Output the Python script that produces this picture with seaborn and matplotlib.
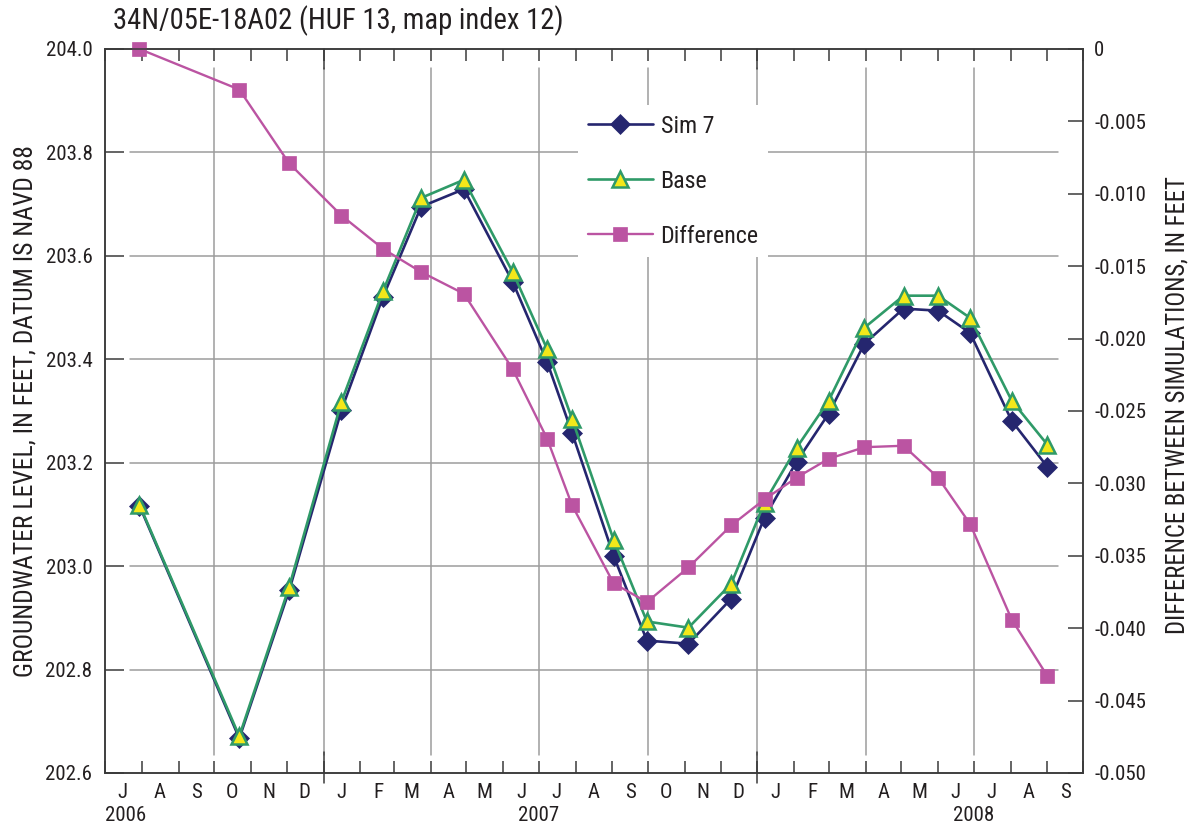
import pandas as pd
import matplotlib
matplotlib.use("Agg")
import matplotlib.pyplot as plt
import matplotlib.dates as mdates
import matplotlib.ticker as mticker
from matplotlib import font_manager
import seaborn as sns

TITLE = "34N/05E-18A02 (HUF 13, map index 12)"
YLABEL_LEFT = "GROUNDWATER LEVEL, IN FEET, DATUM IS NAVD 88"
YLABEL_RIGHT = "DIFFERENCE BETWEEN SIMULATIONS, IN FEET"

dates = ["2006-07-30", "2006-10-22", "2006-12-03", "2007-01-16", "2007-02-20",
         "2007-03-24", "2007-04-29", "2007-06-09", "2007-07-08", "2007-07-29",
         "2007-09-02", "2007-09-30", "2007-11-04", "2007-12-10", "2008-01-07",
         "2008-02-03", "2008-03-01", "2008-03-31", "2008-05-03", "2008-06-01",
         "2008-06-28", "2008-08-02", "2008-09-01"]

sim7 = [203.117, 202.667, 202.953, 203.302, 203.521, 203.695, 203.729, 203.550,
        203.395, 203.258, 203.020, 202.856, 202.850, 202.937, 203.094, 203.202,
        203.295, 203.430, 203.498, 203.494, 203.451, 203.281, 203.192]

base = [203.119, 202.671, 202.960, 203.318, 203.532, 203.712, 203.747, 203.569,
        203.420, 203.285, 203.051, 202.893, 202.881, 202.966, 203.123, 203.229,
        203.320, 203.461, 203.523, 203.523, 203.480, 203.320, 203.235]

difference = [0.0, -0.0028, -0.0079, -0.0115, -0.0138, -0.0154, -0.0169, -0.0221,
              -0.0269, -0.0315, -0.0369, -0.0382, -0.0358, -0.0329, -0.0311, -0.0296,
              -0.0283, -0.0275, -0.0274, -0.0296, -0.0328, -0.0394, -0.0433]

left_ticks = [202.6, 202.8, 203.0, 203.2, 203.4, 203.6, 203.8, 204.0]
month_letters = "JFMAMJJASOND"
years = ["2006", "2007", "2008"]

C_SIM = "#25266f"
C_BASE = "#2f9a68"
C_YELLOW = "#f3e81a"
C_DIFF = "#bb54a2"
C_GRID = "#9c9c9c"
C_AXIS = "#3a3a3a"
C_TEXT = "#231f20"

sns.set_theme(style="white")

# pick a narrow sans if one is installed (original uses a condensed face)
installed = {(f.name, f.stretch) for f in font_manager.fontManager.ttflist}
names = {n for n, _ in installed}
family, stretch = "DejaVu Sans", "normal"
for cand in ["Liberation Sans Narrow", "Roboto Condensed", "Noto Sans Condensed",
             "Open Sans Condensed", "Arial Narrow"]:
    if cand in names:
        family = cand
        break
else:
    for cand in ["Noto Sans", "Roboto", "Open Sans", "DejaVu Sans"]:
        if any(n == cand and s in ("condensed", "semi-condensed", 75, 87)
               for n, s in installed):
            family, stretch = cand, "condensed"
            break

plt.rcParams["font.family"] = [family, "DejaVu Sans"]
plt.rcParams["font.stretch"] = stretch
plt.rcParams["text.color"] = C_TEXT
plt.rcParams["xtick.labelcolor"] = C_TEXT
plt.rcParams["ytick.labelcolor"] = C_TEXT

df = pd.DataFrame({"date": pd.to_datetime(dates), "sim7": sim7,
                   "base": base, "diff": difference})

fig = plt.figure(figsize=(11.93, 8.26), dpi=100)
renderer = fig.canvas.get_renderer()


def fit(text, target_px, ref=20):
    """font size (pt) that gives the text the width it has in the original"""
    t = fig.text(0, 0, text, fontsize=ref)
    w = t.get_window_extent(renderer).width
    t.remove()
    return ref * target_px / w


FS_TICK = fit("204.0", 47)
FS_LEG = fit("Difference", 98)
FS_TITLE = fit(TITLE, 450)
FS_YL = fit(YLABEL_LEFT, 532)
FS_YR = fit(YLABEL_RIGHT, 458)

ax = fig.add_axes([105 / 1193, 1 - 773 / 826, 978 / 1193, 724 / 826])
ax2 = ax.twinx()

start, end = pd.Timestamp("2006-07-01"), pd.Timestamp("2008-10-01")

# gridlines, stopping short of the frame like the original
for v in left_ticks[1:-1]:
    ax.axhline(v, xmin=0.026, xmax=0.974, color=C_GRID, lw=1.1, zorder=0.5)
for d in pd.date_range(start, end, freq="QS")[1:]:
    if d < end:
        ax.axvline(d, ymin=0.025, ymax=0.974, color=C_GRID, lw=1.1, zorder=0.5)

sns.lineplot(data=df, x="date", y="sim7", ax=ax, color=C_SIM, lw=1.9,
             marker="D", markersize=10, markerfacecolor=C_SIM,
             markeredgecolor=C_SIM, markeredgewidth=0.5, label="Sim 7", legend=False)
sns.lineplot(data=df, x="date", y="base", ax=ax, color=C_BASE, lw=1.9,
             marker="^", markersize=12, markerfacecolor=C_YELLOW,
             markeredgecolor=C_BASE, markeredgewidth=1.8, label="Base", legend=False)
sns.lineplot(data=df, x="date", y="diff", ax=ax2, color=C_DIFF, lw=1.7,
             marker="s", markersize=10, markerfacecolor=C_DIFF,
             markeredgecolor=C_DIFF, markeredgewidth=0.5, label="Difference",
             legend=False, clip_on=False)

# left axis
ax.set_ylim(202.6, 204.0)
ax.set_yticks(left_ticks)
ax.yaxis.set_major_formatter(mticker.FormatStrFormatter("%.1f"))
ax.tick_params(axis="y", direction="in", length=13.5, width=1.1, pad=9,
               labelsize=FS_TICK, left=True, right=False, color=C_AXIS)
ax.set_ylabel("")

# right axis
ax2.set_ylim(-0.05, 0.0)
ax2.yaxis.set_major_locator(mticker.MultipleLocator(0.005))
ax2.yaxis.set_major_formatter(mticker.FuncFormatter(
    lambda v, p: "0" if abs(v) < 1e-9 else f"{v:.3f}"))
ax2.tick_params(axis="y", direction="in", length=11, width=1.1, pad=8,
                labelsize=FS_TICK, right=True, left=False, color=C_AXIS)
ax2.set_ylabel("")

# month axis
ax.set_xlim(start, end)
ax.xaxis.set_major_locator(mdates.MonthLocator())
ax.xaxis.set_major_formatter(mticker.NullFormatter())
ax.xaxis.set_minor_locator(mdates.MonthLocator(bymonthday=16))
ax.xaxis.set_minor_formatter(mticker.FuncFormatter(
    lambda v, p: month_letters[mdates.num2date(v).month - 1]))
ax.tick_params(axis="x", which="major", direction="in", length=8.5, width=1.1,
               top=True, bottom=True, color=C_AXIS)
ax.tick_params(axis="x", which="minor", length=0, pad=7, labelsize=FS_TICK)
ax.set_xlabel("")

# longer ticks at the year boundaries
xtrans = ax.get_xaxis_transform()
for d in pd.date_range(start, end, freq="YS"):
    ax.plot([d, d], [-0.014, 0.029], transform=xtrans, color=C_AXIS, lw=1.1,
            clip_on=False, zorder=3)
    ax.plot([d, d], [0.972, 1.0], transform=xtrans, color=C_AXIS, lw=1.1,
            clip_on=False, zorder=3)

for i, yr in enumerate(years):
    d = pd.Timestamp(f"{yr}-07-01")
    ax.text(d, -0.059, yr, transform=xtrans, ha="left" if i == 0 else "center",
            va="center", fontsize=FS_TICK)

for a in (ax, ax2):
    for s in a.spines.values():
        s.set_color(C_AXIS)
        s.set_linewidth(1.1)

fig.text(113 / 1193, 1 - 21 / 826, TITLE, ha="left", va="center", fontsize=FS_TITLE)
fig.text(26 / 1193, 1 - 411 / 826, YLABEL_LEFT, rotation=90,
         ha="center", va="center", fontsize=FS_YL)
fig.text(1177 / 1193, 1 - 405 / 826, YLABEL_RIGHT, rotation=90,
         ha="center", va="center", fontsize=FS_YR)

# legend
fs_px = FS_LEG * 100 / 72
h1 = [l for l in ax.get_lines() if l.get_label() in ("Sim 7", "Base")]
h2 = [l for l in ax2.get_lines() if l.get_label() == "Difference"]
leg = ax2.legend(handles=h1 + h2, labels=["Sim 7", "Base", "Difference"],
                 loc="upper left", bbox_to_anchor=(578 / 1193, 1 - 105 / 826),
                 bbox_transform=fig.transFigure, fontsize=FS_LEG, frameon=True,
                 facecolor="white", edgecolor="none", framealpha=1,
                 handlelength=65 / fs_px, handletextpad=8 / fs_px,
                 labelspacing=max(55 / fs_px - 0.96, 0.2),
                 borderpad=max((21 - 0.48 * fs_px) / fs_px, 0.1),
                 borderaxespad=0, fancybox=False)

fig.savefig("out.png", dpi=100)
